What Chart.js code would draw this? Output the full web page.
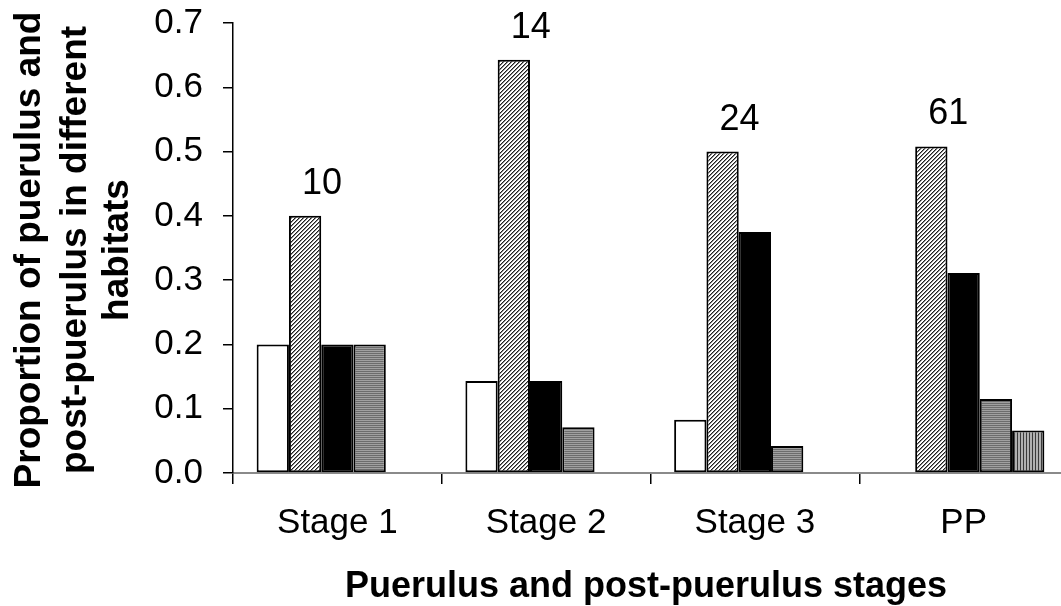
<!DOCTYPE html>
<html>
<head>
<meta charset="utf-8">
<script src="https://cdn.jsdelivr.net/npm/chart.js@4.4.1/dist/chart.umd.min.js"></script>
<style>
  html, body { margin: 0; padding: 0; background: #fff; overflow: hidden; }
  #wrap { width: 1070px; height: 606px; }
</style>
</head>
<body>
<div id="wrap"><canvas id="c" width="1070" height="606"></canvas></div>
<script>
// Stages on the x axis
const stages = ['Stage 1', 'Stage 2', 'Stage 3', 'PP'];
// Proportion of individuals found in each habitat, per stage
const habitat1 = [0.200, 0.143, 0.083, 0.000];
const habitat2 = [0.400, 0.643, 0.500, 0.508];
const habitat3 = [0.200, 0.143, 0.375, 0.311];
const habitat4 = [0.200, 0.071, 0.042, 0.115];
const habitat5 = [0.000, 0.000, 0.000, 0.066];
// Number of individuals sampled at each stage
const sampleSizes = [10, 14, 24, 61];
// Y axis tick values
const yTicks = [0.0, 0.1, 0.2, 0.3, 0.4, 0.5, 0.6, 0.7];

const FONT = '"Liberation Sans", Arial, sans-serif';

function makePattern(w, h, painter) {
  const c = document.createElement('canvas');
  c.width = w; c.height = h;
  const g = c.getContext('2d');
  painter(g);
  return g.createPattern(c, 'repeat');
}
const ctx0 = document.getElementById('c').getContext('2d');

// fine diagonal hatch
const diagPattern = makePattern(4, 4, g => {
  g.fillStyle = '#ffffff'; g.fillRect(0, 0, 4, 4);
  for (let y = 0; y < 4; y++) for (let x = 0; x < 4; x++) {
    const k = (x + y) % 4;
    if (k === 0) { g.fillStyle = '#1e1e1e'; g.fillRect(x, y, 1, 1); }
    if (k === 1) { g.fillStyle = '#8a8a8a'; g.fillRect(x, y, 1, 1); }
  }
});
// horizontal grey stripes
const horizPattern = makePattern(2, 2, g => {
  g.fillStyle = '#a0a0a0'; g.fillRect(0, 0, 2, 1);
  g.fillStyle = '#6c6c6c'; g.fillRect(0, 1, 2, 1);
});
// vertical stripes
const vertPattern = makePattern(3, 3, g => {
  g.fillStyle = '#b0b0b0'; g.fillRect(0, 0, 3, 3);
  g.fillStyle = '#3a3a3a'; g.fillRect(0, 0, 1, 3);
});

const barStyle = { borderColor: '#000', borderWidth: 2, borderSkipped: false,
                   barPercentage: 1.0, categoryPercentage: 0.7735 };

const sampleSizePlugin = {
  id: 'sampleSizes',
  afterDatasetsDraw(chart) {
    const g = chart.ctx;
    const meta = chart.getDatasetMeta(1);
    g.save();
    g.font = '36px ' + FONT;
    g.fillStyle = '#000';
    g.textAlign = 'center';
    g.textBaseline = 'alphabetic';
    meta.data.forEach((bar, i) => {
      g.fillText(String(sampleSizes[i]), bar.x + 17, bar.y - 22);
    });
    g.restore();
  }
};

const axisTitlePlugin = {
  id: 'axisTitles',
  afterDraw(chart) {
    const g = chart.ctx;
    g.save();
    g.fillStyle = '#000';
    g.font = 'bold 36px ' + FONT;
    g.textAlign = 'center';
    g.textBaseline = 'alphabetic';
    g.fillText('Puerulus and post-puerulus stages', 646, 597);

    const lines = ['Proportion of puerulus and', 'post-puerulus in different', 'habitats'];
    const baselines = [40, 86, 128];
    g.font = 'bold 37px ' + FONT;
    lines.forEach((t, i) => {
      g.save();
      g.translate(baselines[i], 250);
      g.rotate(-Math.PI / 2);
      g.fillText(t, 0, 0);
      g.restore();
    });
    g.restore();
  }
};

new Chart(ctx0, {
  type: 'bar',
  data: {
    labels: stages,
    datasets: [
      { label: 'Habitat 1', data: habitat1, backgroundColor: '#ffffff', ...barStyle },
      { label: 'Habitat 2', data: habitat2, backgroundColor: diagPattern, ...barStyle },
      { label: 'Habitat 3', data: habitat3, backgroundColor: '#000000', ...barStyle },
      { label: 'Habitat 4', data: habitat4, backgroundColor: horizPattern, ...barStyle },
      { label: 'Habitat 5', data: habitat5, backgroundColor: vertPattern, ...barStyle }
    ]
  },
  options: {
    responsive: false,
    animation: false,
    devicePixelRatio: 1,
    layout: { padding: { left: 0, top: 23, right: 2, bottom: 0 } },
    plugins: { legend: { display: false }, tooltip: { enabled: false }, title: { display: false } },
    scales: {
      x: {
        grid: { display: true, drawOnChartArea: false, drawTicks: true, tickLength: 11,
                color: '#000', lineWidth: 1.5, offset: true },
        border: { display: true, color: '#8a8a8a', width: 2 },
        ticks: { color: '#000', font: { family: FONT, size: 35 }, padding: 18, maxRotation: 0 },
        afterFit(s) { s.height = 133; s.paddingLeft = 0; s.paddingRight = 0; }
      },
      y: {
        min: 0, max: 0.7,
        afterBuildTicks(s) { s.ticks = yTicks.map(v => ({ value: v })); },
        grid: { display: true, drawOnChartArea: false, drawTicks: true, tickLength: 10,
                color: '#000', lineWidth: 1.5 },
        border: { display: true, color: '#000', width: 1.5 },
        ticks: { color: '#000', font: { family: FONT, size: 35 }, padding: 20,
                 callback: v => Number(v).toFixed(1) },
        afterFit(s) { s.width = 233; s.paddingTop = 0; s.paddingBottom = 0; }
      }
    }
  },
  plugins: [sampleSizePlugin, axisTitlePlugin]
});
</script>
</body>
</html>
